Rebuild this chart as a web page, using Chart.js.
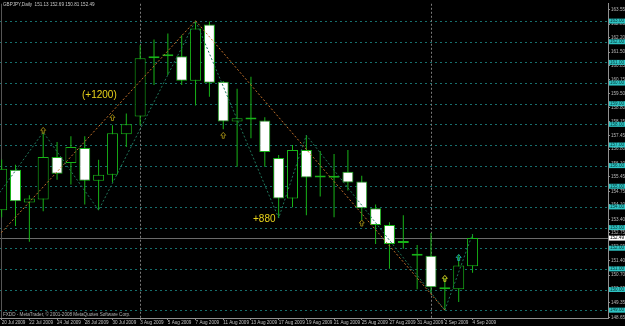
<!DOCTYPE html>
<html>
<head>
<meta charset="utf-8">
<script src="https://cdn.jsdelivr.net/npm/chart.js@4.4.1/dist/chart.umd.min.js"></script>
<style>
  html, body { margin: 0; padding: 0; background: #000; }
  canvas { display: block; }
</style>
</head>
<body>
<canvas id="chart" width="625" height="326"></canvas>
<script>
// GBPJPY daily, 20 Jul 2009 - 4 Sep 2009
const days = ["20 Jul 2009", "21 Jul 2009", "22 Jul 2009", "23 Jul 2009", "24 Jul 2009",
  "27 Jul 2009", "28 Jul 2009", "29 Jul 2009", "30 Jul 2009", "31 Jul 2009",
  "3 Aug 2009", "4 Aug 2009", "5 Aug 2009", "6 Aug 2009", "7 Aug 2009",
  "10 Aug 2009", "11 Aug 2009", "12 Aug 2009", "13 Aug 2009", "14 Aug 2009",
  "17 Aug 2009", "18 Aug 2009", "19 Aug 2009", "20 Aug 2009", "21 Aug 2009",
  "24 Aug 2009", "25 Aug 2009", "26 Aug 2009", "27 Aug 2009", "28 Aug 2009",
  "31 Aug 2009", "1 Sep 2009", "2 Sep 2009", "3 Sep 2009", "4 Sep 2009"];
const opens = [153.84, 155.80, 154.22, 154.36, 156.42, 156.13, 156.85, 155.27, 155.56, 157.52,
  158.38, 161.20, 161.30, 161.30, 160.11, 162.83, 160.06, 158.14, 158.24, 158.19,
  156.37, 154.41, 156.76, 155.42, 155.42, 155.70, 155.23, 153.93, 153.12, 152.26,
  151.73, 151.64, 150.11, 150.01, 151.13];
const highs = [156.30, 156.04, 154.56, 157.62, 157.14, 157.42, 157.42, 156.28, 157.95, 158.53,
  161.83, 162.11, 162.40, 162.31, 163.02, 162.98, 160.10, 159.72, 160.30, 158.34,
  156.52, 157.00, 157.47, 156.71, 156.56, 156.76, 155.51, 154.12, 153.26, 153.60,
  152.16, 152.74, 150.54, 151.69, 152.69];
const lows = [153.50, 153.07, 152.31, 153.79, 155.32, 155.08, 154.12, 153.84, 155.18, 156.90,
  157.95, 159.91, 160.39, 159.91, 158.91, 159.34, 157.76, 155.94, 157.33, 155.94,
  153.46, 153.98, 153.60, 154.51, 153.50, 154.79, 153.36, 152.21, 151.01, 151.97,
  150.01, 149.82, 149.00, 149.39, 150.81];
const closes = [155.85, 154.27, 154.41, 156.42, 155.61, 156.90, 155.27, 155.56, 157.57, 158.00,
  161.20, 161.28, 161.31, 160.11, 162.64, 160.01, 158.14, 158.29, 158.25, 156.66,
  154.41, 156.76, 155.42, 155.43, 155.41, 155.18, 153.93, 153.12, 152.21, 152.25,
  151.64, 150.11, 150.01, 151.16, 152.49];

const priceTicks = [163.55, 162.85, 162.20, 161.50, 160.85, 160.15, 159.50, 158.80, 158.15,
  157.45, 156.80, 156.10, 155.45, 154.75, 154.10, 153.40, 152.75, 152.05, 151.40,
  150.70, 150.05, 149.35, 148.65];
const dateTicks = [0, 2, 4, 6, 8, 10, 12, 14, 16, 18, 20, 22, 24, 26, 28, 30, 32, 34];
const levels = [163, 162, 161, 160, 159, 158, 157, 156, 155, 154, 153, 152, 151, 150, 149];
const bid = 152.49;
const separators = [10, 31];

// zigzag swing points (bar index, price)
const zigIdx = [-1, 3, 7, 14, 20, 22, 32, 34];
const zigPrice = [153.90, 157.62, 153.84, 163.02, 153.46, 157.47, 149.00, 152.69];
// hand drawn trend lines
const upIdx = [-1, 14];
const upPrice = [152.04, 163.02];
const downIdx = [14, 32];
const downPrice = [163.02, 149.00];

// arrow markers
const markIdx = [3, 8, 16, 26, 32, 33];
const markPrice = [157.71, 158.33, 157.47, 153.22, 150.54, 151.55];
const markColor = ["#8f7d12", "#8f7d12", "#8f7d12", "#8f7d12", "#c8c820", "#1aa0a0"];

const notes = [
  { text: "(+1200)", idx: 5.8, price: 159.39 },
  { text: "+880", idx: 18.15, price: 153.41 }
];

const GREEN = "#18b418";
const FONT = "'Liberation Sans', Arial, sans-serif";

const bodies = opens.map((o, i) => ({ x: i, y: [o, closes[i]] }));
const wicks = lows.map((l, i) => ({ x: i, y: [l, highs[i]] }));
const pts = (xs, ys) => xs.map((v, i) => ({ x: v, y: ys[i] }));

const extras = {
  id: "extras",
  beforeDatasetsDraw(chart) {
    const { ctx, chartArea: a, scales: { x, y } } = chart;
    ctx.save();
    ctx.lineWidth = 1;
    ctx.strokeStyle = "#166e6c";
    ctx.setLineDash([2, 3]);
    levels.forEach(v => {
      const py = Math.round(y.getPixelForValue(v)) + 0.5;
      ctx.beginPath(); ctx.moveTo(a.left, py); ctx.lineTo(a.right, py); ctx.stroke();
    });
    ctx.strokeStyle = "#7a7a7a";
    ctx.setLineDash([2, 2]);
    separators.forEach(i => {
      const px = Math.round(x.getPixelForValue(i)) + 0.5;
      ctx.beginPath(); ctx.moveTo(px, a.top); ctx.lineTo(px, a.bottom); ctx.stroke();
    });
    ctx.setLineDash([]);
    ctx.strokeStyle = "#6a6a6a";
    const by = Math.round(y.getPixelForValue(bid)) + 0.5;
    ctx.beginPath(); ctx.moveTo(a.left, by); ctx.lineTo(a.right, by); ctx.stroke();
    ctx.strokeStyle = "#555";
    ctx.beginPath(); ctx.moveTo(1.5, a.top); ctx.lineTo(1.5, a.bottom); ctx.stroke();
    ctx.restore();
  },
  afterDraw(chart) {
    const { ctx, chartArea: a, scales: { x, y } } = chart;
    ctx.save();
    // arrows
    markIdx.forEach((m, i) => {
      const cx = x.getPixelForValue(m), cy = y.getPixelForValue(markPrice[i]);
      ctx.strokeStyle = markColor[i];
      ctx.lineWidth = 1;
      ctx.beginPath();
      ctx.moveTo(cx, cy - 3);
      ctx.lineTo(cx + 2.5, cy);
      ctx.lineTo(cx + 1, cy);
      ctx.lineTo(cx + 1, cy + 3);
      ctx.lineTo(cx - 1, cy + 3);
      ctx.lineTo(cx - 1, cy);
      ctx.lineTo(cx - 2.5, cy);
      ctx.closePath();
      ctx.stroke();
    });
    // notes
    ctx.fillStyle = "#e8d21a";
    ctx.font = "10px " + FONT;
    ctx.textAlign = "left";
    ctx.textBaseline = "middle";
    notes.forEach(n => ctx.fillText(n.text, x.getPixelForValue(n.idx), y.getPixelForValue(n.price)));
    // header and footer
    ctx.font = "4.6px " + FONT;
    ctx.fillStyle = "#c8c8c8";
    ctx.fillText("GBPJPY,Daily  " + opens[34].toFixed(2) + " " + highs[34].toFixed(2) + " " +
      lows[34].toFixed(2) + " " + closes[34].toFixed(2), 3, 4.5);
    ctx.fillStyle = "#b0b0b0";
    ctx.fillText("FXDD - MetaTrader, \u00a9 2001-2008 MetaQuotes Software Corp.", 3, 314.5);
    // level boxes on the price axis
    ctx.font = "4.6px " + FONT;
    levels.forEach(v => {
      const py = y.getPixelForValue(v);
      ctx.fillStyle = "#2ec2c2";
      ctx.fillRect(a.right + 1, py - 2.5, 16, 5);
      ctx.fillStyle = "#063838";
      ctx.fillText(v.toFixed(2), a.right + 2, py);
    });
    const by = y.getPixelForValue(bid);
    ctx.fillStyle = "#ffffff";
    ctx.fillRect(a.right + 1, by - 2.5, 16, 5);
    ctx.fillStyle = "#000";
    ctx.fillText(bid.toFixed(2), a.right + 2, by);
    ctx.restore();
  }
};

new Chart(document.getElementById("chart"), {
  type: "bar",
  data: {
    datasets: [
      {
        type: "line", data: pts(upIdx, upPrice), borderColor: "#c0702a",
        borderWidth: 1, borderDash: [2, 2], pointRadius: 0, order: 0
      },
      {
        type: "line", data: pts(downIdx, downPrice), borderColor: "#c0702a",
        borderWidth: 1, borderDash: [2, 2], pointRadius: 0, order: 0
      },
      {
        type: "line", data: pts(zigIdx, zigPrice), borderColor: "#1f7458",
        borderWidth: 1, borderDash: [2, 2], pointRadius: 0, order: 0
      },
      {
        data: bodies,
        backgroundColor: opens.map((o, i) => closes[i] >= o ? "#000000" : "#ffffff"),
        borderColor: GREEN, borderWidth: 1, borderSkipped: false,
        barThickness: 11, minBarLength: 2, grouped: false, inflateAmount: 0, order: 1
      },
      {
        data: wicks, backgroundColor: GREEN, borderWidth: 0,
        barThickness: 1, grouped: false, inflateAmount: 0, order: 2
      }
    ]
  },
  options: {
    responsive: false,
    animation: false,
    devicePixelRatio: 1,
    layout: { padding: 0 },
    plugins: { legend: { display: false }, tooltip: { enabled: false } },
    scales: {
      x: {
        type: "linear", min: -0.12, max: 43.78, offset: false,
        grid: { offset: false, drawOnChartArea: false, color: "#909090", tickLength: 2 },
        border: { color: "#909090" },
        afterBuildTicks: s => { s.ticks = dateTicks.map(v => ({ value: v })); },
        afterFit: s => { s.height = 8; },
        ticks: {
          autoSkip: false, maxRotation: 0, minRotation: 0, align: "start", padding: 0,
          color: "#c0c0c0", font: { size: 4.6, family: FONT },
          callback: v => days[v] || ""
        }
      },
      y: {
        position: "right", min: 148.62, max: 163.84, beginAtZero: false,
        grid: { drawOnChartArea: false, color: "#909090", tickLength: 2 },
        border: { color: "#909090" },
        afterBuildTicks: s => { s.ticks = priceTicks.map(v => ({ value: v })); },
        afterFit: s => { s.width = 17; },
        ticks: {
          autoSkip: false, padding: 1, color: "#b8b8b8",
          font: { size: 4.6, family: FONT },
          callback: v => Number(v).toFixed(2)
        }
      }
    }
  },
  plugins: [extras]
});
</script>
</body>
</html>
